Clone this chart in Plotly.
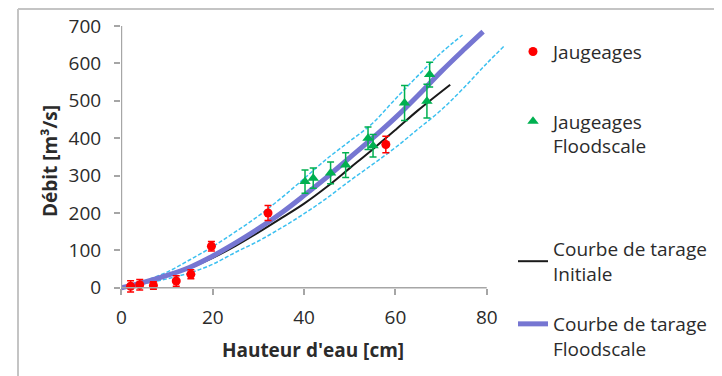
import plotly.graph_objects as go

# ---- data ----
h_jaug = [2, 4, 7, 12, 15.2, 19.7, 32.1, 57.9]
q_jaug = [4, 8, 6, 18, 36, 111, 200, 383]
e_jaug = [15, 14, 10, 14, 12, 13, 20, 22]

h_flood = [40.2, 42, 45.8, 49.1, 54, 55.1, 62, 66.9, 67.5]
q_flood = [284, 293, 307, 328, 400, 380, 494, 499, 570]
e_flood = [31, 27, 29, 33, 30, 30, 47, 45, 33]

h_init = [0, 5, 10, 15, 20, 25, 30, 35, 40, 45, 50, 55, 60, 65, 72]
q_init = [0, 14, 32, 53, 80, 112, 148, 186, 225, 270, 320, 370, 422, 475, 543]

h_fs = [0, 5, 10, 15, 20, 25, 30, 35, 40, 45, 50, 55, 60, 65, 70, 75, 79.2]
q_fs = [0, 15, 33, 55, 85, 120, 158, 200, 247, 296, 348, 400, 455, 515, 578, 637, 685]

h_up = [0, 5, 10, 15, 20, 25, 30, 35, 40, 45, 50, 55, 60, 65, 70, 74.7]
q_up = [-3, 18, 42, 75, 110, 150, 192, 240, 292, 345, 392, 440, 505, 568, 628, 676]

h_lo = [0, 5, 10, 15, 20, 25, 30, 35, 40, 45, 50, 55, 60, 65, 70, 75, 80, 83.7]
q_lo = [3, 12, 24, 40, 63, 95, 125, 160, 198, 240, 286, 330, 375, 425, 475, 535, 600, 645]

x_ticks = [0, 20, 40, 60, 80]
y_ticks = [0, 100, 200, 300, 400, 500, 600, 700]

name_jaug = "Jaugeages"
name_flood = "Jaugeages<br>Floodscale"
name_init = "Courbe de tarage<br>Initiale"
name_fs = "Courbe de tarage<br>Floodscale"

RED = "#ff0000"
GREEN = "#00b050"
CYAN = "#3cc0f0"
PURPLE = "#7676d2"
TXT = "#2b2b2b"
AX = "#a6a6a6"
FONT = "Open Sans"

fig = go.Figure()
fig.add_trace(go.Scatter(x=h_up, y=q_up, mode="lines", line=dict(color=CYAN, width=1.5, dash="4px,2px"),
                         showlegend=False, line_shape="spline"))
fig.add_trace(go.Scatter(x=h_lo, y=q_lo, mode="lines", line=dict(color=CYAN, width=1.5, dash="4px,2px"),
                         showlegend=False, line_shape="spline"))
fig.add_trace(go.Scatter(x=h_init, y=q_init, mode="lines", name=name_init,
                         line=dict(color="#1a1a1a", width=2), line_shape="spline", legend="legend3"))
fig.add_trace(go.Scatter(x=h_fs, y=q_fs, mode="lines", name=name_fs,
                         line=dict(color=PURPLE, width=5), line_shape="spline", legend="legend4"))
fig.add_trace(go.Scatter(x=h_jaug, y=q_jaug, mode="markers", name=name_jaug,
                         marker=dict(color=RED, size=9, symbol="circle"),
                         error_y=dict(type="data", array=e_jaug, color=RED, thickness=1.5, width=3.5),
                         legend="legend"))
fig.add_trace(go.Scatter(x=h_flood, y=q_flood, mode="markers", name=name_flood,
                         marker=dict(color=GREEN, size=10, symbol="triangle-up"),
                         error_y=dict(type="data", array=e_flood, color=GREEN, thickness=1.5, width=3.5),
                         legend="legend2"))

# the page body has an 8px margin: place everything 8px up/left
OFF = 8
W, H = 722, 376
L, T = 121 - OFF, 26 - OFF
B = H - (296 - OFF)
R = W - L - 384
PW, PH = W - L - R, H - T - B


def px(xp):
    return (xp - OFF - L) / PW


def py(yp):
    return (H - B - (yp - OFF)) / PH


# axis lines and chart frame
fig.add_shape(type="line", xref="x", yref="y", x0=0, x1=80, y0=0, y1=0, line=dict(color=AX, width=1.5))
fig.add_shape(type="line", xref="x", yref="y", x0=0, x1=0, y0=0, y1=700, line=dict(color=AX, width=1.5))
fig.add_shape(type="line", xref="paper", yref="paper", x0=px(18), x1=px(730), y0=py(9), y1=py(9),
              line=dict(color="#c4c4c4", width=2))
fig.add_shape(type="line", xref="paper", yref="paper", x0=px(18), x1=px(18), y0=py(9), y1=py(384),
              line=dict(color="#c4c4c4", width=2))

leg = dict(x=px(513), xanchor="left", yanchor="middle", bgcolor="rgba(0,0,0,0)",
           font=dict(family=FONT, size=19, color=TXT))

fig.update_layout(
    width=W, height=H,
    margin=dict(l=L, r=R, t=T, b=B, pad=0, autoexpand=False),
    paper_bgcolor="white", plot_bgcolor="white",
    font=dict(family=FONT, size=19, color=TXT),
    xaxis=dict(range=[-0.1, 84], tickvals=x_ticks, showgrid=False, zeroline=False, showline=False,
               ticks="outside", ticklen=6, tickcolor=AX, tickwidth=1.5,
               anchor="free", position=22 / 722, ticklabelstandoff=6, automargin=False,
               title=dict(text="<b>Hauteur d'eau [cm]</b>", standoff=15, font=dict(size=19))),
    yaxis=dict(range=[-22, 700], tickvals=y_ticks, showgrid=False, zeroline=False, showline=False,
               ticks="outside", ticklen=6, tickcolor=AX, tickwidth=1.5, ticklabelstandoff=9, automargin=False,
               title=dict(text="<b>Débit [m³/s]</b>", standoff=5, font=dict(size=19))),
    legend=dict(leg, y=py(51.7), valign="middle"),
    legend2=dict(leg, y=py(134), valign="top"),
    legend3=dict(leg, y=py(261.5), valign="middle"),
    legend4=dict(leg, y=py(336.5), valign="top"),
)

fig.write_html("out.html")
